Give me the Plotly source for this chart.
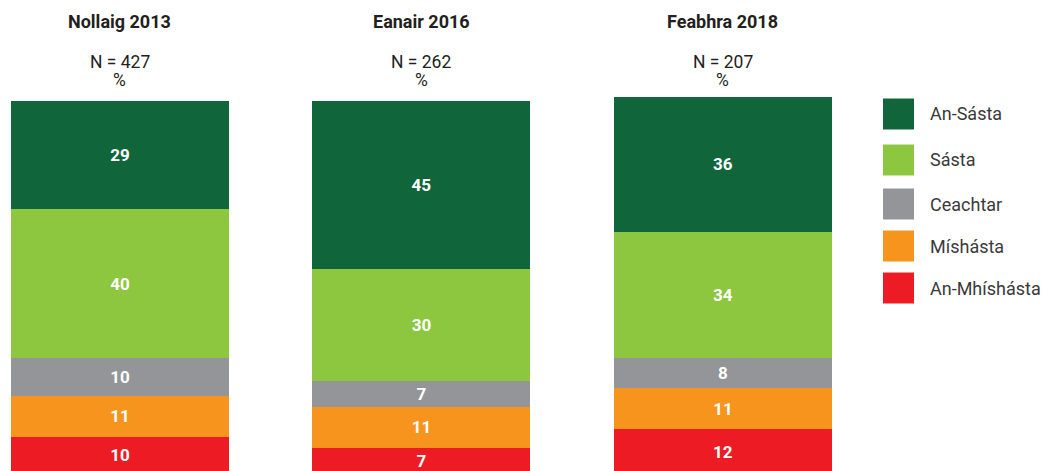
import plotly.graph_objects as go

periods = ["Nollaig 2013", "Eanair 2016", "Feabhra 2018"]
sample_sizes = ["N = 427", "N = 262", "N = 207"]
categories = ["An-Mhíshásta", "Míshásta", "Ceachtar", "Sásta", "An-Sásta"]
values = {
    "An-Mhíshásta": [10, 7, 12],
    "Míshásta": [11, 11, 11],
    "Ceachtar": [10, 7, 8],
    "Sásta": [40, 30, 34],
    "An-Sásta": [29, 45, 36],
}
colors = {
    "An-Mhíshásta": "#ED1C24",
    "Míshásta": "#F7941D",
    "Ceachtar": "#939598",
    "Sásta": "#8DC63F",
    "An-Sásta": "#10663A",
}

FONT = "Roboto"
W, H = 1047, 471
xpos = list(range(len(periods)))

fig = go.Figure()
for cat in categories:
    fig.add_trace(go.Bar(
        x=xpos, y=values[cat], name=cat,
        marker=dict(color=colors[cat], line=dict(width=0)),
        width=0.723,
        text=values[cat], textposition="inside", insidetextanchor="middle",
        textangle=0,
        textfont=dict(family=FONT, size=17, color="white", weight="bold"),
        showlegend=False,
    ))

# Panel headings (pixel rows from the top)
for i, (p, n) in enumerate(zip(periods, sample_sizes)):
    for row, txt, size in ((22, f"<b>{p}</b>", 18), (62, n, 17.5), (80, "%", 17.5)):
        fig.add_annotation(x=i, y=1 - row / H, xref="x", yref="paper",
                           yanchor="middle", text=txt, showarrow=False,
                           font=dict(family=FONT, size=size, color="#231F20"))

# Legend drawn as swatches + labels (top item first)
legend_y = [114, 160, 204, 246, 288]
for cat, ly in zip(reversed(categories), legend_y):
    fig.add_shape(type="rect", xref="paper", yref="paper",
                  x0=883 / W, x1=914 / W,
                  y0=1 - (ly - 15.5) / H, y1=1 - (ly + 15.5) / H,
                  fillcolor=colors[cat], line=dict(width=0))
    fig.add_annotation(x=928 / W, y=1 - ly / H, xref="paper", yref="paper",
                       xanchor="left", yanchor="middle", text=cat, showarrow=False,
                       font=dict(family=FONT, size=18, color="#3A3A3A"))

fig.update_layout(
    barmode="stack",
    width=W, height=H,
    margin=dict(l=0, r=0, t=0, b=0),
    paper_bgcolor="white", plot_bgcolor="white",
    xaxis=dict(range=[-0.398, 3.075], visible=False, fixedrange=True),
    yaxis=dict(range=[0.8, 127.07], visible=False, fixedrange=True),
    uniformtext=dict(minsize=10, mode="show"),
)

fig.write_html("out.html", config={"displayModeBar": False})
